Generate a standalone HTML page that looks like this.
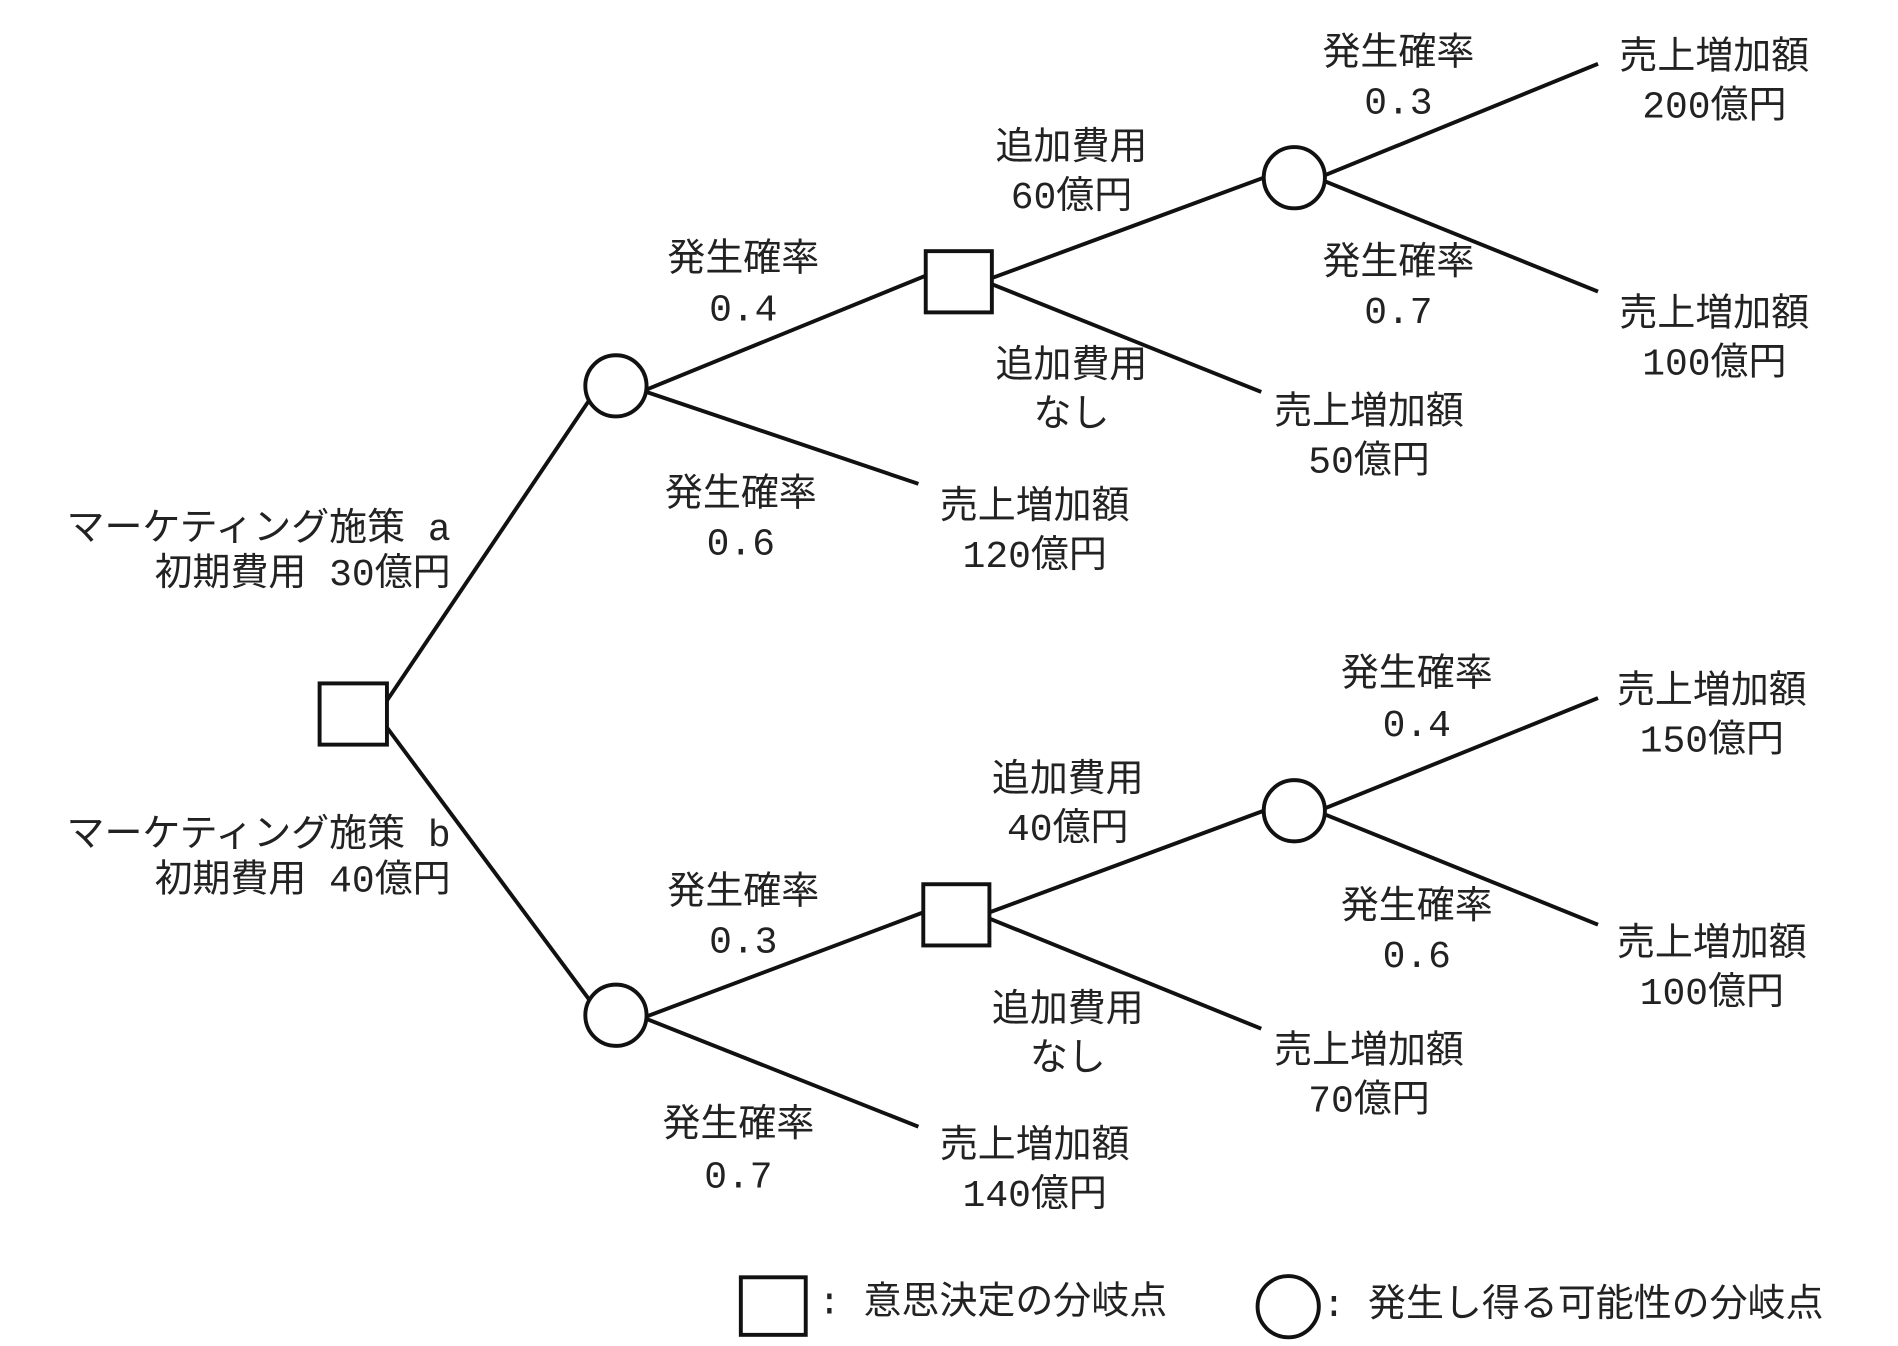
<!DOCTYPE html>
<html><head><meta charset="utf-8"><style>html,body{margin:0;padding:0;background:#fff}svg{display:block}</style></head>
<body>
<svg width="1898" height="1346" viewBox="0 0 1550 1099" xmlns="http://www.w3.org/2000/svg">
<g stroke="#111" stroke-width="3.2" fill="#fff">
<line x1="316" y1="572" x2="481" y2="327"/>
<line x1="316" y1="594" x2="481" y2="816"/>
<line x1="528" y1="318" x2="756" y2="225"/>
<line x1="528" y1="320" x2="750" y2="395"/>
<line x1="810" y1="227" x2="1032" y2="145"/>
<line x1="810" y1="232" x2="1030" y2="320"/>
<line x1="1082" y1="143" x2="1305" y2="52"/>
<line x1="1082" y1="148" x2="1305" y2="238"/>
<line x1="528" y1="830" x2="754" y2="745"/>
<line x1="528" y1="832" x2="750" y2="920"/>
<line x1="808" y1="745" x2="1032" y2="662"/>
<line x1="808" y1="750" x2="1030" y2="840"/>
<line x1="1082" y1="660" x2="1305" y2="570"/>
<line x1="1082" y1="665" x2="1305" y2="755"/>
<rect x="261" y="558" width="55" height="50"/>
<circle cx="503" cy="315" r="25"/>
<circle cx="503" cy="829" r="25"/>
<rect x="756" y="205" width="54" height="50"/>
<rect x="754" y="722" width="54" height="50"/>
<circle cx="1057" cy="145" r="25"/>
<circle cx="1057" cy="662" r="25"/>
<rect x="605" y="1043" width="53" height="47"/>
<ellipse cx="1052" cy="1067" rx="25" ry="25"/>
</g>
<g font-family="'Liberation Mono','Noto Sans CJK JP',monospace" font-size="31" fill="#222" text-anchor="middle" dominant-baseline="central">
<text x="607" y="213">発生確率</text><text x="607" y="254">0.4</text>
<text x="605" y="405">発生確率</text><text x="605" y="445">0.6</text>
<text x="845" y="415">売上増加額</text><text x="845" y="455">120億円</text>
<text x="875" y="122">追加費用</text><text x="875" y="162">60億円</text>
<text x="875" y="300">追加費用</text><text x="875" y="340">なし</text>
<text x="1118" y="338">売上増加額</text><text x="1118" y="378">50億円</text>
<text x="1142" y="45">発生確率</text><text x="1142" y="85">0.3</text>
<text x="1142" y="216">発生確率</text><text x="1142" y="256">0.7</text>
<text x="1400" y="48">売上増加額</text><text x="1400" y="88">200億円</text>
<text x="1400" y="258">売上増加額</text><text x="1400" y="298">100億円</text>
<text x="607" y="730">発生確率</text><text x="607" y="770">0.3</text>
<text x="603" y="920">発生確率</text><text x="603" y="962">0.7</text>
<text x="845" y="937">売上増加額</text><text x="845" y="977">140億円</text>
<text x="872" y="638">追加費用</text><text x="872" y="678">40億円</text>
<text x="872" y="826">追加費用</text><text x="872" y="866">なし</text>
<text x="1118" y="860">売上増加額</text><text x="1118" y="900">70億円</text>
<text x="1157" y="552">発生確率</text><text x="1157" y="593">0.4</text>
<text x="1157" y="742">発生確率</text><text x="1157" y="782">0.6</text>
<text x="1398" y="566">売上増加額</text><text x="1398" y="606">150億円</text>
<text x="1398" y="772">売上増加額</text><text x="1398" y="812">100億円</text>
<g text-anchor="end">
<text x="368" y="433">マーケティング施策 a</text><text x="368" y="470">初期費用 30億円</text>
<text x="368" y="683">マーケティング施策 b</text><text x="368" y="720">初期費用 40億円</text>
</g>
<g text-anchor="start">
<text x="668" y="1065">: 意思決定の分岐点</text>
<text x="1080" y="1067">: 発生し得る可能性の分岐点</text>
</g>
</g>
</svg>
</body></html>
